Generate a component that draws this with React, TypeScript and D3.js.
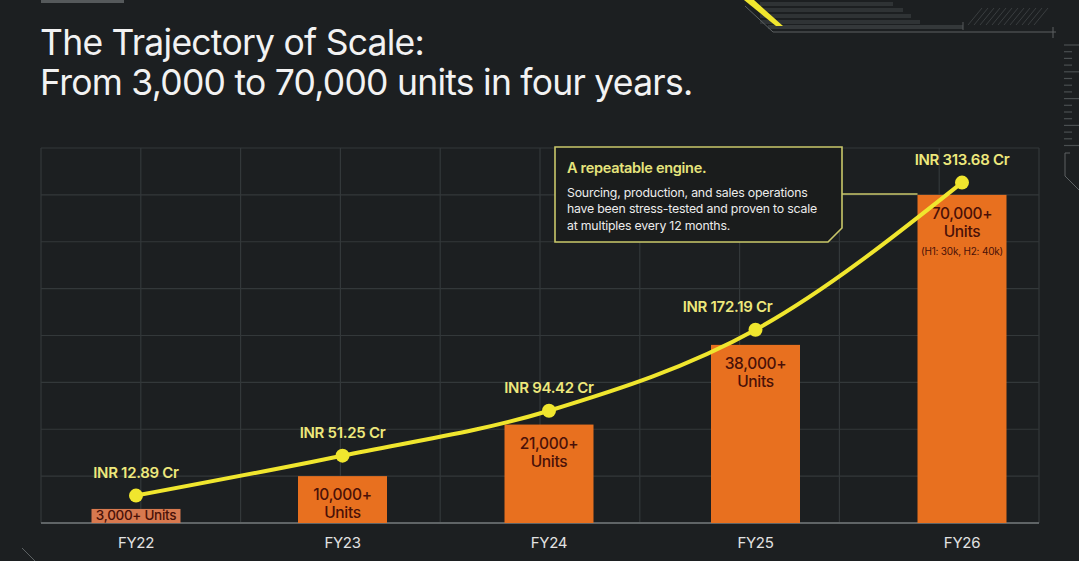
import React from "react";
import * as d3 from "d3";

const categories = ["FY22", "FY23", "FY24", "FY25", "FY26"];
const units = [3000, 10000, 21000, 38000, 70000];
const unitLabels = ["3,000+", "10,000+", "21,000+", "38,000+", "70,000+"];
const revenue = [12.89, 51.25, 94.42, 172.19, 313.68];
const revenueLabels = ["INR 12.89 Cr", "INR 51.25 Cr", "INR 94.42 Cr", "INR 172.19 Cr", "INR 313.68 Cr"];
const unitTicks = [0, 10000, 20000, 30000, 40000, 50000, 60000, 70000, 80000];
const titleLines = ["The Trajectory of Scale:", "From 3,000 to 70,000 units in four years."];
const noteTitle = "A repeatable engine.";
const noteLines = [
  "Sourcing, production, and sales operations",
  "have been stress-tested and proven to scale",
  "at multiples every 12 months.",
];
const fy26Split = "(H1: 30k, H2: 40k)";

const W = 1079;
const H = 561;
const BG = "#1c1f21";
const GRID = "#33383a";
const ORANGE = "#e8701f";
const BAR_TEXT = "#4a1108";
const YELLOW = "#f0e62e";
const LABEL_YELLOW = "#eee87c";
const FONT = "Inter, 'Liberation Sans', Arial, sans-serif";

export default function App() {
  const plot = { left: 41, right: 1039, top: 148, bottom: 523 };

  const x = d3.scalePoint<string>().domain(categories).range([136, 962]);
  const yUnits = d3.scaleLinear().domain([0, 80000]).range([plot.bottom, plot.top]);
  const yRev = d3.scaleLinear().domain([0, 320]).range([509, 176]);

  const vGrid = d3.range(0, 11).map((i) => plot.left + (i * (plot.right - plot.left)) / 10);
  const barW = 89;

  const points: [number, number][] = categories.map((c, i) => [x(c)!, yRev(revenue[i])]);
  const line = d3.line().curve(d3.curveMonotoneX)(points) || "";

  // right-edge ruler ticks
  const rulerTicks = d3.range(0, 16).map((i) => ({ y: 45 + i * 6.7, long: i % 4 === 0 || i === 15 }));
  // top stripe bars (diagonal cut on the right)
  const stripes = [
    { y: 2, x2: 893 },
    { y: 8, x2: 903 },
    { y: 14, x2: 911 },
    { y: 20, x2: 920 },
  ];
  const hatch = d3.range(0, 12).map((i) => 968 + i * 6);

  const box = { x: 555, y: 147, w: 287, h: 95, cut: 14 };
  const boxPath = `M${box.x},${box.y} H${box.x + box.w} V${box.y + box.h - box.cut} L${box.x + box.w - box.cut},${box.y + box.h} H${box.x} Z`;

  return (
    <svg
      width={W}
      height={H}
      viewBox={`0 0 ${W} ${H}`}
      style={{ position: "absolute", left: 0, top: 0, background: BG, fontFamily: FONT }}
    >
      <rect x={0} y={0} width={W} height={H} fill={BG} />

      {/* decorative frame pieces */}
      <rect x={41} y={0} width={83} height={3} fill="#55595b" />
      {stripes.map((s, i) => (
        <rect key={i} x={760} y={s.y} width={s.x2 - 760} height={4} fill="#2f3335" />
      ))}
      <rect x={768} y={25} width={195} height={4} fill="#34383a" />
      <line x1={963} y1={22} x2={963} y2={30} stroke="#55595b" strokeWidth={1} />
      <g stroke="#3a3e40" strokeWidth={1}>
        {hatch.map((hx, i) => (
          <line key={i} x1={hx} y1={25} x2={hx + 14} y2={8} />
        ))}
      </g>
      <polygon points="744,0 754,0 783,26 776,26" fill={YELLOW} />
      <polyline points="745,6 773,32 1056,32" fill="none" stroke="#5c6163" strokeWidth={1} />
      <line x1={1053} y1={27} x2={1053} y2={38} stroke="#5c6163" strokeWidth={1} />
      <g stroke="#4a4f51" strokeWidth={1.2}>
        {rulerTicks.map((t, i) => (
          <line key={i} x1={1064} y1={t.y} x2={t.long ? 1079 : 1072} y2={t.y} />
        ))}
      </g>
      <polyline points="1070,153 1065,153 1065,176 1079,190" fill="none" stroke="#5c6163" strokeWidth={1} />
      <line x1={22} y1={548} x2={35} y2={561} stroke="#5c6163" strokeWidth={1} />

      {/* title */}
      {titleLines.map((t, i) => (
        <text
          key={i}
          x={40}
          y={55 + i * 40}
          fill="#f2f2f2"
          fontSize={35.5}
          fontWeight={400}
          letterSpacing={-0.75}
        >
          {t}
        </text>
      ))}

      {/* grid */}
      <g stroke={GRID} strokeWidth={1.2}>
        {unitTicks.slice(1).map((t) => (
          <line key={t} x1={plot.left} x2={plot.right} y1={yUnits(t)} y2={yUnits(t)} />
        ))}
        {vGrid.map((gx, i) => (
          <line key={i} x1={gx} x2={gx} y1={plot.top} y2={plot.bottom} />
        ))}
      </g>
      <line x1={plot.left} x2={plot.right} y1={plot.bottom} y2={plot.bottom} stroke="#5f6466" strokeWidth={2} />

      {/* connector from note to FY26 bar */}
      <line x1={box.x + box.w} y1={194} x2={x("FY26")! - barW / 2} y2={194} stroke="#c9c76a" strokeWidth={1.3} />

      {/* unit bars */}
      {categories.map((c, i) => {
        const bx = x(c)! - barW / 2;
        const top = yUnits(units[i]);
        const small = i === 0;
        return (
          <g key={c}>
            <rect
              x={bx}
              y={top}
              width={barW}
              height={plot.bottom - top}
              fill={small ? "#d8794f" : ORANGE}
            />
            {small ? (
              <text
                x={x(c)}
                y={plot.bottom - 3}
                textAnchor="middle"
                fill={BAR_TEXT}
                fontSize={13.5}
                fontWeight={500}
                letterSpacing={-0.3}
              >
                {unitLabels[i]} Units
              </text>
            ) : (
              <g fill={BAR_TEXT} textAnchor="middle" fontWeight={500} letterSpacing={-0.3}>
                <text x={x(c)} y={top + 24} fontSize={15.5}>
                  {unitLabels[i]}
                </text>
                <text x={x(c)} y={top + 42} fontSize={15.5}>
                  Units
                </text>
                {c === "FY26" && (
                  <text x={x(c)} y={top + 60} fontSize={10} fontWeight={400} letterSpacing={-0.2}>
                    {fy26Split}
                  </text>
                )}
              </g>
            )}
          </g>
        );
      })}

      {/* revenue line */}
      <path d={line} fill="none" stroke={YELLOW} strokeWidth={4} strokeLinejoin="round" />
      {points.map(([px, py], i) => (
        <circle key={i} cx={px} cy={py} r={7} fill={YELLOW} />
      ))}
      {points.map(([px, py], i) => (
        <text
          key={i}
          x={px + (categories[i] === "FY25" ? -28 : 0)}
          y={py - 18}
          textAnchor="middle"
          fill={LABEL_YELLOW}
          fontSize={15}
          fontWeight={600}
          letterSpacing={-0.3}
        >
          {revenueLabels[i]}
        </text>
      ))}

      {/* category axis */}
      {categories.map((c) => (
        <text key={c} x={x(c)} y={548} textAnchor="middle" fill="#e2e2e2" fontSize={15} letterSpacing={-0.3}>
          {c}
        </text>
      ))}

      {/* note box */}
      <path d={boxPath} fill="#1a1c1c" stroke="#c9c76a" strokeWidth={1.6} />
      <text x={567} y={173} fill="#e6e47c" fontSize={14.5} fontWeight={600} letterSpacing={-0.3}>
        {noteTitle}
      </text>
      {noteLines.map((t, i) => (
        <text key={i} x={567} y={197 + i * 16.3} fill="#ececec" fontSize={12.3} letterSpacing={-0.2}>
          {t}
        </text>
      ))}
    </svg>
  );
}
